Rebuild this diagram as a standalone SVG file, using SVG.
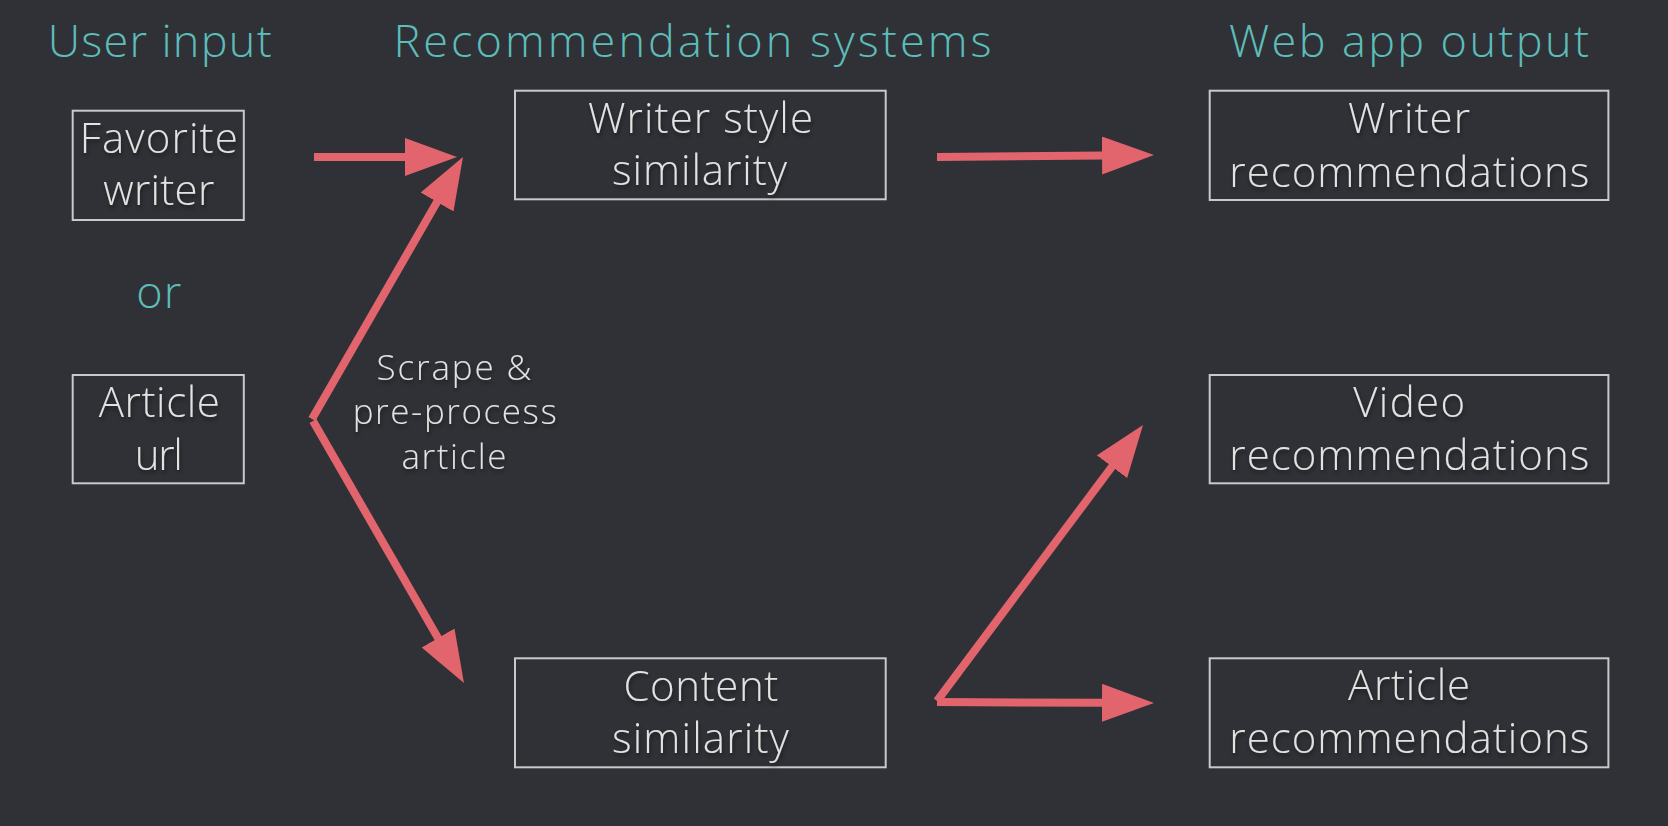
<svg xmlns="http://www.w3.org/2000/svg" width="1668" height="826" viewBox="0 0 1668 826">
<defs>
<style>
.bg{fill:#303136}
.title{font-family:"Open Sans","Lato",sans-serif;font-weight:300;font-size:45px;fill:#5cbdb9;text-anchor:middle}
.box{fill:none;stroke:#c9c9c9;stroke-width:2}
.lbl{font-family:"Open Sans","Lato",sans-serif;font-weight:300;font-size:42px;fill:#e2e2e2;text-anchor:middle;filter:url(#sh)}
.note{font-family:"Open Sans","Lato",sans-serif;font-weight:300;font-size:35px;fill:#e2e2e2;text-anchor:middle;filter:url(#sh)}
.arrh{stroke:#e2646d;stroke-width:8;fill:none;marker-end:url(#ah)}
</style>
<filter id="sh" x="-10%" y="-20%" width="120%" height="150%">
<feDropShadow dx="1" dy="3" stdDeviation="2" flood-color="#000000" flood-opacity="0.45"/>
</filter>
<marker id="ah" viewBox="0 0 52 38" refX="2" refY="19" markerWidth="52" markerHeight="38" markerUnits="userSpaceOnUse" orient="auto">
<path d="M0,0 L52,19 L0,38 Z" fill="#e2646d"/>
</marker>
</defs>
<rect class="bg" x="0" y="0" width="1668" height="826"/>

<g id="titles">
<text class="title" x="159.7" y="56.7" textLength="224">User input</text>
<text class="title" x="692.5" y="56.7" textLength="598">Recommendation systems</text>
<text class="title" x="1409" y="56.7" textLength="360">Web app output</text>
<text class="title" x="158.8" y="308.3" font-size="47" textLength="45">or</text>
</g>

<g id="connectors">
<line class="arrh" x1="314" y1="157" x2="407" y2="157"/>
<line class="arrh" x1="312" y1="419" x2="438" y2="200.3"/>
<line class="arrh" x1="313" y1="421" x2="439" y2="639.7"/>
<line class="arrh" x1="937" y1="157" x2="1104" y2="155.5"/>
<line class="arrh" x1="937" y1="702" x2="1104" y2="702.8"/>
<line class="arrh" x1="937" y1="701" x2="1113.1" y2="465.1"/>
<g id="scrape-label">
<text class="note" x="454" y="380" textLength="155">Scrape &amp;</text>
<text class="note" x="454.7" y="424" textLength="204">pre-process</text>
<text class="note" x="454" y="469" textLength="105">article</text>
</g>
</g>

<g id="favorite-writer">
<rect class="box" x="72.7" y="110.7" width="171.1" height="109.3"/>
<text class="lbl" x="158.8" y="153.3" textLength="158">Favorite</text>
<text class="lbl" x="158.8" y="205" textLength="111">writer</text>
</g>

<g id="article-url">
<rect class="box" x="72.7" y="375" width="171.1" height="108.3"/>
<text class="lbl" x="159.3" y="416.7" textLength="121">Article</text>
<text class="lbl" x="158.8" y="470" textLength="48">url</text>
</g>

<g id="writer-style-similarity">
<rect class="box" x="515" y="90.7" width="370.7" height="108.6"/>
<text class="lbl" x="700.5" y="133.3" textLength="225">Writer style</text>
<text class="lbl" x="699.5" y="185" textLength="175">similarity</text>
</g>

<g id="content-similarity">
<rect class="box" x="515" y="658.3" width="370.7" height="109"/>
<text class="lbl" x="700.9" y="700.7" textLength="155">Content</text>
<text class="lbl" x="700.4" y="753.3" textLength="177">similarity</text>
</g>

<g id="writer-recommendations">
<rect class="box" x="1209.7" y="90.7" width="398.7" height="109.3"/>
<text class="lbl" x="1409" y="133.3" textLength="122">Writer</text>
<text class="lbl" x="1409.3" y="186.7" textLength="360">recommendations</text>
</g>

<g id="video-recommendations">
<rect class="box" x="1209.7" y="375" width="398.7" height="108.3"/>
<text class="lbl" x="1409.2" y="416.7" textLength="112">Video</text>
<text class="lbl" x="1409.3" y="470" textLength="360">recommendations</text>
</g>

<g id="article-recommendations">
<rect class="box" x="1209.7" y="658.3" width="398.7" height="109"/>
<text class="lbl" x="1409" y="700" textLength="122">Article</text>
<text class="lbl" x="1409.3" y="752.7" textLength="360">recommendations</text>
</g>
</svg>
